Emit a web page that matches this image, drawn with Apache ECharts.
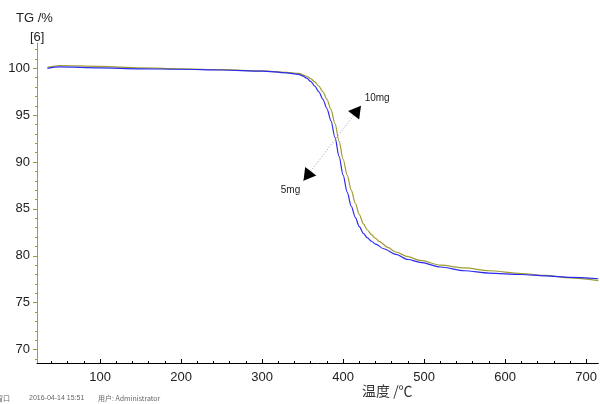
<!DOCTYPE html>
<html>
<head>
<meta charset="utf-8">
<script src="https://cdn.jsdelivr.net/npm/echarts@6/dist/echarts.min.js"></script>
<style>html,body{margin:0;padding:0;background:#fff;}#c{width:600px;height:404px;}</style>
</head>
<body>
<div id="c"></div>
<script>
var temp10 = [35,50,100,150,200,250,300,330,345,355,360,365,370,375,380,385,390,395,400,405,410,415,420,425,430,435,440,445,455,465,480,495,520,550,580,620,650,680,715];
var tg10   = [100.1,100.3,100.2,100.05,99.95,99.85,99.72,99.57,99.45,99.15,98.9,98.55,98.1,97.5,96.7,95.6,94.1,92.2,90.3,88.6,87.0,85.6,84.4,83.4,82.75,82.25,81.85,81.5,80.9,80.4,79.9,79.5,79.0,78.7,78.4,78.1,77.9,77.65,77.35];
var temp5  = [35,50,100,150,200,250,300,330,345,350,355,360,365,370,375,380,385,390,395,400,405,410,415,420,425,430,435,440,450,465,480,495,520,550,580,620,650,680,715];
var tg5    = [100.0,100.15,100.05,99.95,99.9,99.82,99.7,99.52,99.35,99.2,98.95,98.6,98.1,97.5,96.7,95.7,94.4,92.6,90.6,88.6,86.8,85.3,84.1,83.1,82.4,81.9,81.55,81.25,80.75,80.15,79.6,79.3,78.8,78.4,78.15,78.0,77.85,77.7,77.55];
var xTicks = [100,200,300,400,500,600,700];
var yTicks = [70,75,80,85,90,95,100];
var xMinor = [];
for (var v = 40; v <= 700; v += 20) xMinor.push(v);
var yMinor = [];
for (var w = 69; w <= 102; w += 1) yMinor.push(w);
var arrowFrom = [351, 88.0];
var arrowTo = [422, 96.0];
var label10 = [442, 96.8];
var label5 = [335, 87.0];

function pairs(xs, ys) { return xs.map(function (x, i) { return [x, ys[i]]; }); }

var olive = '#a09c30';
var blue = '#2a2af0';
var font = '"Liberation Sans", Arial, sans-serif';
var chart = echarts.init(document.getElementById('c'));
var xMin = 22.1, xMax = 715, yMin = 68.56, yMax = 102.7;
chart.setOption({
  animation: false,
  backgroundColor: '#fff',
  grid: { left: 37, right: 0, top: 43, bottom: 41, containLabel: false },
  xAxis: [{
    type: 'value', min: xMin, max: xMax, position: 'bottom',
    axisLine: { lineStyle: { color: '#000', width: 1 } },
    axisTick: { show: true, inside: true, length: 4, customValues: xTicks, lineStyle: { color: '#000' } },
    axisLabel: { customValues: xTicks, color: '#222', fontSize: 13, fontFamily: font, margin: 8 },
    splitLine: { show: false }
  }, {
    type: 'value', min: xMin, max: xMax, position: 'bottom',
    axisLine: { show: false },
    axisTick: { show: true, inside: true, length: 2, customValues: xMinor, lineStyle: { color: '#000' } },
    axisLabel: { show: false },
    splitLine: { show: false }
  }],
  yAxis: [{
    type: 'value', min: yMin, max: yMax, position: 'left',
    axisLine: { show: true, lineStyle: { color: olive, width: 1 } },
    axisTick: { show: true, length: 4, customValues: yTicks, lineStyle: { color: olive } },
    axisLabel: { customValues: yTicks, color: '#222', fontSize: 13, fontFamily: font, margin: 7 },
    splitLine: { show: false }
  }, {
    type: 'value', min: yMin, max: yMax, position: 'left',
    axisLine: { show: false },
    axisTick: { show: true, length: 2, customValues: yMinor, lineStyle: { color: olive } },
    axisLabel: { show: false },
    splitLine: { show: false }
  }],
  series: [{
    name: '10mg', type: 'line', data: pairs(temp10, tg10), showSymbol: false, symbol: 'none',
    smooth: 0.3, smoothMonotone: 'x',
    lineStyle: { color: olive, width: 1.2 }, z: 2,
    markLine: {
      silent: true, symbol: ['none', 'none'],
      lineStyle: { color: '#999', type: [1, 2], width: 1 },
      label: { show: false },
      data: [[{ coord: arrowFrom }, { coord: arrowTo }]]
    }
  }, {
    name: '5mg', type: 'line', data: pairs(temp5, tg5), showSymbol: false, symbol: 'none',
    smooth: 0.3, smoothMonotone: 'x',
    lineStyle: { color: blue, width: 1.2 }, z: 3
  }],
  graphic: [
    { type: 'text', left: 16, top: 12, style: { text: 'TG /%', fill: '#222', font: '13px ' + font } },
    { type: 'text', left: 30, top: 31, style: { text: '[6]', fill: '#222', font: '13px ' + font } },
    { type: 'text', left: 362, top: 384, style: { text: '温度 /℃', fill: '#333', font: '14px "Noto Sans CJK SC", sans-serif' } },
    { type: 'text', left: -4, top: 395, style: { text: '窗口', fill: '#666', font: '7px "Noto Sans CJK SC", sans-serif' } },
    { type: 'text', left: 29, top: 395, style: { text: '2016-04-14 15:51', fill: '#666', font: '7px ' + font } },
    { type: 'text', left: 98, top: 395, style: { text: '用户: Administrator', fill: '#666', font: '7px "Noto Sans CJK SC", sans-serif' } }
  ]
});

// arrowheads and labels placed at data coordinates
var pFrom = chart.convertToPixel({ xAxisIndex: 0, yAxisIndex: 0 }, arrowFrom);
var pTo = chart.convertToPixel({ xAxisIndex: 0, yAxisIndex: 0 }, arrowTo);
var dx = pTo[0] - pFrom[0], dy = pTo[1] - pFrom[1];
var len = Math.sqrt(dx * dx + dy * dy);
var ux = dx / len, uy = dy / len;
var hh = 6;
var cTo = chart.convertFromPixel({ xAxisIndex: 0, yAxisIndex: 0 }, [pTo[0] - ux * hh, pTo[1] - uy * hh]);
var cFrom = chart.convertFromPixel({ xAxisIndex: 0, yAxisIndex: 0 }, [pFrom[0] + ux * hh, pFrom[1] + uy * hh]);
var theta = Math.atan2(dx, -dy) * 180 / Math.PI;
chart.setOption({
  series: [{
    name: '10mg',
    markPoint: {
      silent: true,
      data: [
        { coord: cTo, symbol: 'triangle', symbolSize: [14, 12], symbolRotate: -theta, itemStyle: { color: '#000' }, label: { show: false } },
        { coord: cFrom, symbol: 'triangle', symbolSize: [14, 12], symbolRotate: 180 - theta, itemStyle: { color: '#000' }, label: { show: false } },
        { coord: label10, symbol: 'circle', symbolSize: 0, label: { show: true, formatter: '10mg', color: '#222', fontSize: 10, fontFamily: font, position: 'inside' } },
        { coord: label5, symbol: 'circle', symbolSize: 0, label: { show: true, formatter: '5mg', color: '#222', fontSize: 10, fontFamily: font, position: 'inside' } }
      ]
    }
  }]
});
</script>
</body>
</html>
